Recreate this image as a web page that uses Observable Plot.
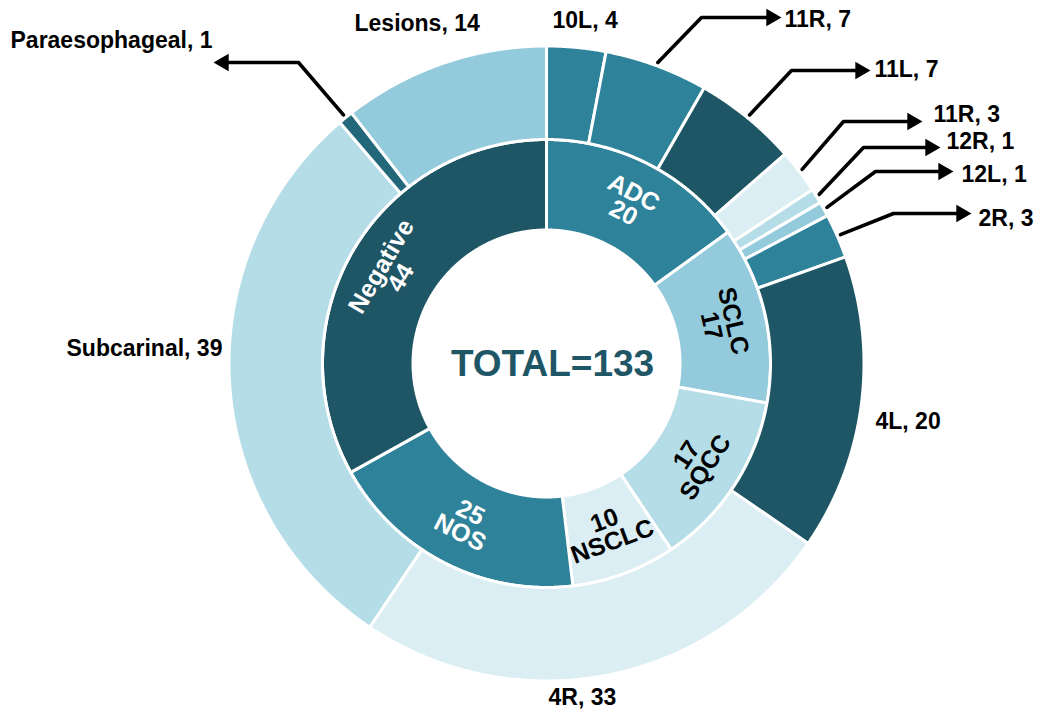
<!DOCTYPE html>
<html><head><meta charset="utf-8">
<script src="https://cdn.jsdelivr.net/npm/d3@7"></script>
<script src="https://cdn.jsdelivr.net/npm/@observablehq/plot@0.6"></script>
<style>
body{margin:0;background:#fff;}
#chart svg{display:block;}
</style>
</head><body><div id="chart"></div>
<script>
// ---- data ----
const innerNames = ["ADC","SCLC","SQCC","NSCLC","NOS","Negative"];
const innerValues = [20,17,17,10,25,44];
const outerNames = ["10L","11R","11L","11R","12R","12L","2R","4L","4R","Subcarinal","Paraesophageal","Lesions"];
const outerValues = [4,7,7,3,1,1,3,20,33,39,1,14];

// ---- styles ----
const C = {dark:"#1f5666", mid:"#2e8299", light:"#93cbdc", lighter:"#b5dde7", lightest:"#daeef3", para:"#23687a"};
const innerColors = [C.mid, C.light, C.lighter, C.lightest, C.mid, C.dark];
const innerTextColors = ["white","black","black","black","white","white"];
const outerColors = [C.mid, C.mid, C.dark, C.lightest, C.lighter, C.light, C.mid, C.dark, C.lightest, C.lighter, C.para, C.light];

// ---- layout (pixels) ----
const W = 1040, H = 711, CX = 546, CY = 363;
const R_HOLE = 135, R_MID = 224, R_OUT = 316, R_LEAD = 321;
const outerLayout = [
  {lx:552, ly:20},
  {lx:784, ly:19, ex:701, ey:17, tx:781, ty:17},
  {lx:874, ly:69, ex:791, ey:70, tx:870, ty:70},
  {lx:933, ly:114, ex:843, ey:121, tx:922, ty:121},
  {lx:946, ly:141, ex:863, ey:147, tx:940, ty:147},
  {lx:961, ly:174, ex:875, ey:171, tx:953, ty:171},
  {lx:978, ly:218, ex:893, ey:213, tx:971, ty:213},
  {lx:875, ly:421},
  {lx:548, ly:697},
  {lx:66, ly:348},
  {lx:10, ly:40, ex:298, ey:62, tx:213, ty:62},
  {lx:354, ly:23}
];

function ring(names, values, colors, r0, r1, key) {
  const total = d3.sum(values);
  const poly = [], mids = [];
  let acc = 0;
  values.forEach((v, i) => {
    const a0 = acc / total * 2 * Math.PI, a1 = (acc + v) / total * 2 * Math.PI;
    acc += v;
    const n = Math.max(2, Math.ceil((a1 - a0) / 0.004));
    const id = key + i;
    for (let k = 0; k <= n; k++) { const a = a0 + (a1 - a0) * k / n; poly.push({id, color: colors[i], x: r1 * Math.sin(a), y: -r1 * Math.cos(a)}); }
    for (let k = n; k >= 0; k--) { const a = a0 + (a1 - a0) * k / n; poly.push({id, color: colors[i], x: r0 * Math.sin(a), y: -r0 * Math.cos(a)}); }
    mids.push({i, name: names[i], value: v, angle: (a0 + a1) / 2});
  });
  return {poly, mids};
}

const inner = ring(innerNames, innerValues, innerColors, R_HOLE - 1.5, R_MID, "in");
const outer = ring(outerNames, outerValues, outerColors, R_MID, R_OUT + 1.5, "out");

// leaders
const leaders = [], heads = [];
const rr = 6.5, tipOff = 2 * Math.sqrt(Math.PI * rr * rr / (3 * Math.sqrt(3)));
outer.mids.forEach(d => {
  const L = outerLayout[d.i];
  if (L.ex === undefined) return;
  const id = "l" + d.i;
  const dir = L.tx > L.ex ? 1 : -1;
  leaders.push({id, x: R_LEAD * Math.sin(d.angle), y: -R_LEAD * Math.cos(d.angle)});
  leaders.push({id, x: L.ex - CX, y: L.ey - CY});
  leaders.push({id, x: L.tx - CX - dir * tipOff, y: L.ty - CY});
  heads.push({x: L.tx - CX - dir * tipOff, y: L.ty - CY, rot: dir > 0 ? 90 : -90});
});

const rLab = (R_HOLE + R_MID) / 2;
const isTop = d => { const deg = d.angle * 180 / Math.PI; return deg <= 90 || deg >= 270; };

const chart = Plot.plot({
  width: W, height: H, margin: 0,
  x: {domain: [-CX, W - CX], range: [0, W], axis: null},
  y: {domain: [-CY, H - CY], range: [0, H], axis: null},
  color: {type: "identity"},
  style: {fontFamily: "'Liberation Sans', Arial, sans-serif", background: "white"},
  marks: [
    Plot.line(inner.poly, {x: "x", y: "y", z: "id", fill: "color", stroke: "white", strokeWidth: 3, strokeLinejoin: "round", curve: "linear-closed"}),
    Plot.line(outer.poly, {x: "x", y: "y", z: "id", fill: "color", stroke: "white", strokeWidth: 3, strokeLinejoin: "round", curve: "linear-closed"}),
    Plot.line(leaders, {x: "x", y: "y", z: "id", stroke: "black", strokeWidth: 3.6, strokeLinejoin: "miter", curve: "linear"}),
    Plot.dot(heads, {x: "x", y: "y", symbol: "triangle", r: rr, fill: "black", stroke: "none", rotate: "rot"}),
    Plot.text(inner.mids, {
      x: d => rLab * Math.sin(d.angle), y: d => -rLab * Math.cos(d.angle),
      text: d => isTop(d) ? `${d.name}\n${d.value}` : `${d.value}\n${d.name}`,
      rotate: d => { const deg = d.angle * 180 / Math.PI; return isTop(d) ? deg : deg - 180; },
      fill: d => innerTextColors[d.i], fontSize: 25, fontWeight: "bold", lineHeight: 0.9
    }),
    Plot.text(outer.mids, {
      x: d => outerLayout[d.i].lx - CX, y: d => outerLayout[d.i].ly - CY,
      text: d => `${d.name}, ${d.value}`, textAnchor: "start",
      fill: "black", fontSize: 23, fontWeight: "bold"
    }),
    Plot.text([`TOTAL=${d3.sum(innerValues)}`], {x: () => 6, y: () => 1, text: d => d, fill: C.dark, fontSize: 37, fontWeight: "bold"})
  ]
});
document.getElementById("chart").append(chart);
</script>
</body></html>
